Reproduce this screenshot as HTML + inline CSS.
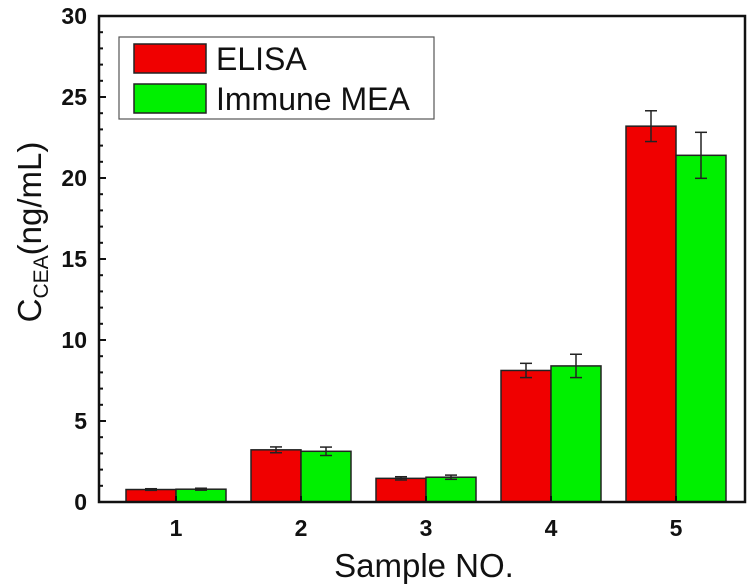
<!DOCTYPE html>
<html><head><meta charset="utf-8"><style>
html,body{margin:0;padding:0;background:#fff;}
svg{display:block;font-family:"Liberation Sans",Arial,sans-serif;}
</style></head><body>
<svg id="chart" width="754" height="586" style="position:absolute;left:0;top:0">
</svg>
<script>
const categories = ["1","2","3","4","5"];
const elisaValues = [0.77, 3.22, 1.46, 8.12, 23.2];
const elisaErrors = [0.05, 0.18, 0.1, 0.44, 0.95];
const meaValues = [0.79, 3.13, 1.53, 8.4, 21.4];
const meaErrors = [0.06, 0.26, 0.13, 0.72, 1.42];
const yTicks = [0,5,10,15,20,25,30];

const svg = document.getElementById('chart');
const NS = 'http://www.w3.org/2000/svg';
const L=99, R=745, T=16, B=502;
const yMin=0,yMax=30, xMin=0.384, xMax=5.552;
const yS = v => B - (v-yMin)/(yMax-yMin)*(B-T);
const xS = v => L + (v-xMin)/(xMax-xMin)*(R-L);
const bw = 0.4*(R-L)/(xMax-xMin);
function mk(tag, attrs, parent){const e=document.createElementNS(NS,tag);for(const k in attrs)e.setAttribute(k,attrs[k]);(parent||svg).appendChild(e);return e;}

const barsG = mk('g',{});


function drawSeries(vals, errs, offset, color, name){
  vals.forEach((v,i)=>{
    const cx = xS(i+1);
    const x0 = offset<0 ? cx-bw : cx;
    const r = mk('rect',{x:x0,y:yS(v),width:bw,height:B-yS(v),fill:color,stroke:'#222','stroke-width':1.5},barsG);
    
    
    const ex = x0+bw/2;
    const eg = mk('g',{stroke:'#222','stroke-width':1.5},barsG);
    
    
    mk('line',{x1:ex,x2:ex,y1:yS(v+errs[i]),y2:yS(v-errs[i])},eg);
    mk('line',{x1:ex-6,x2:ex+6,y1:yS(v+errs[i]),y2:yS(v+errs[i])},eg);
    mk('line',{x1:ex-6,x2:ex+6,y1:yS(v-errs[i]),y2:yS(v-errs[i])},eg);
  });
}
drawSeries(elisaValues, elisaErrors, -1, '#f00000', 'elisa');
drawSeries(meaValues, meaErrors, 1, '#00f000', 'immune-mea');

const frame = mk('rect',{x:L,y:T,width:R-L,height:B-T,fill:'none',stroke:'#111','stroke-width':2.5});



const yAxis = mk('g',{});


for(let v=yMin; v<=yMax; v++){
  const major = v%5===0;
  mk('line',{x1:L,x2:L+(major?7:4),y1:yS(v),y2:yS(v),stroke:'#111','stroke-width':2},yAxis);
}
yTicks.forEach(t=>{
  const tx = mk('text',{x:87,y:yS(t)+8,'text-anchor':'end','font-size':23,'font-weight':'bold',fill:'#111'},yAxis);
  tx.textContent = t;
  
  
});
const xAxis = mk('g',{});


categories.forEach((c,i)=>{
  mk('line',{x1:xS(i+1),x2:xS(i+1),y1:B,y2:B-6,stroke:'#111','stroke-width':2},xAxis);
  const tx = mk('text',{x:xS(i+1),y:B+34,'text-anchor':'middle','font-size':23,'font-weight':'bold',fill:'#111'},xAxis);
  tx.textContent = c;
  
  
});
</script>
<svg style="position:absolute;left:0;top:0" width="754" height="586">
  <text x="424" y="577" text-anchor="middle" font-size="33" fill="#111" font-family="Liberation Sans, sans-serif">Sample NO.</text>
  <text transform="translate(41,232) rotate(-90)" text-anchor="middle" font-size="33" fill="#111" font-family="Liberation Sans, sans-serif">C<tspan font-size="21" dy="7">CEA</tspan><tspan dy="-7">(ng/mL)</tspan></text>
  <g>
    <rect x="119" y="37" width="315" height="82" fill="#fff" stroke="#555" stroke-width="1.2"/>
    <rect x="134" y="44" width="72" height="29" fill="#f00000" stroke="#222" stroke-width="1.5"/>
    <text x="216" y="70" font-size="32" fill="#111" font-family="Liberation Sans, sans-serif">ELISA</text>
    <rect x="134" y="84" width="72" height="29" fill="#00f000" stroke="#222" stroke-width="1.5"/>
    <text x="216" y="110" font-size="32" fill="#111" font-family="Liberation Sans, sans-serif">Immune MEA</text>
  </g>
</svg>
</body></html>
